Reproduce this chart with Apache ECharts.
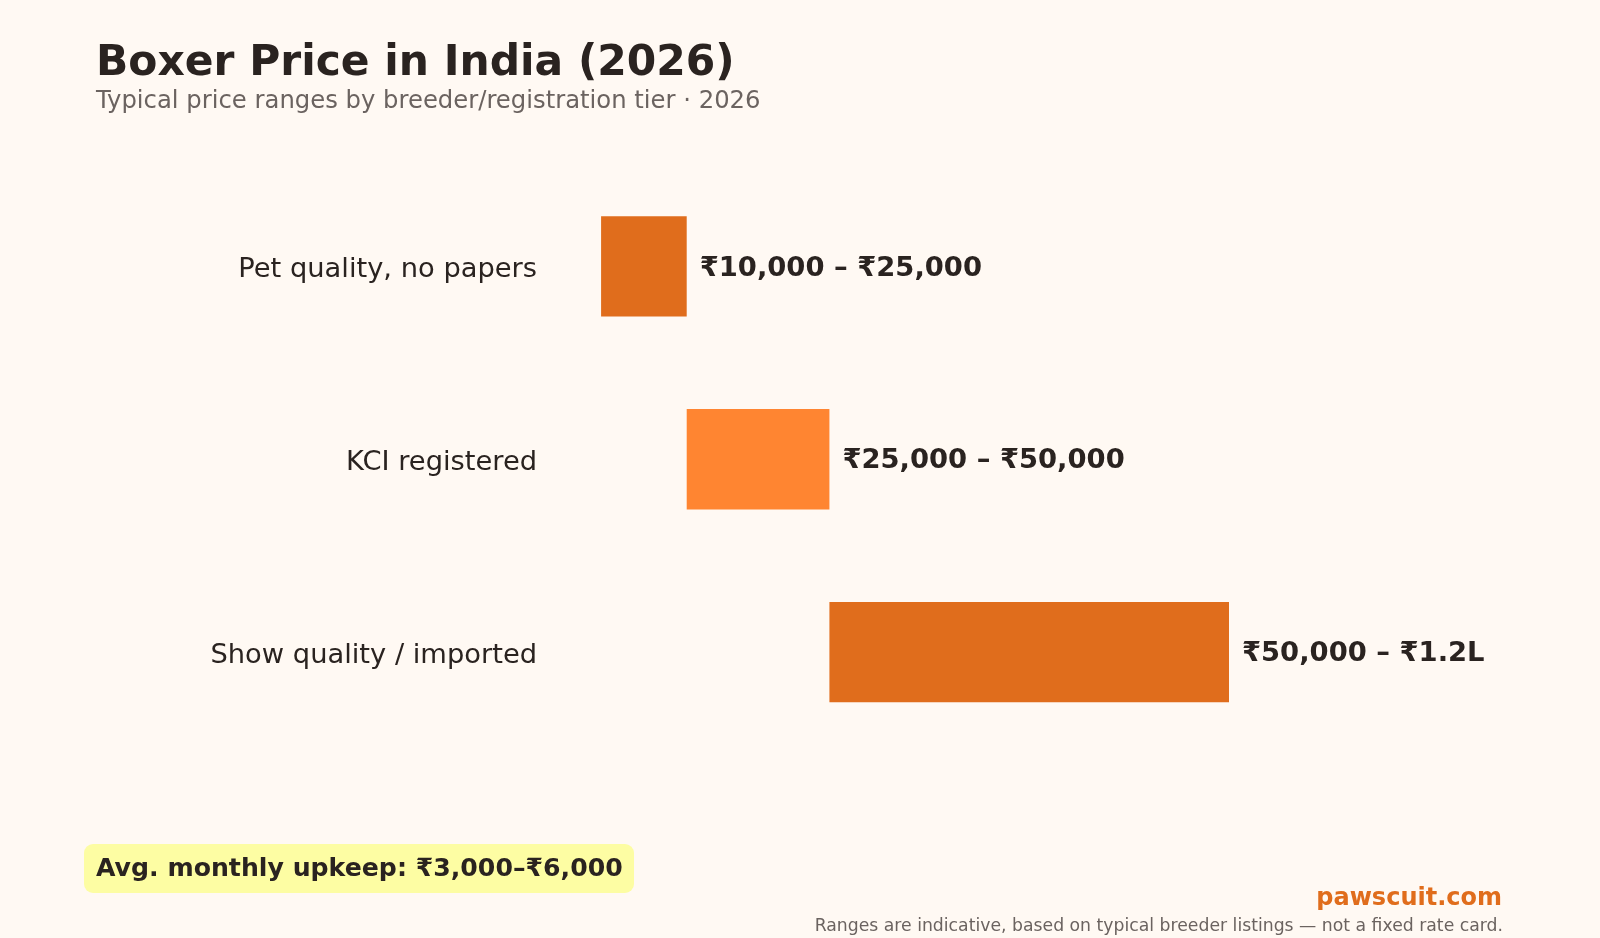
<!DOCTYPE html>
<html><head><meta charset="utf-8">
<script src="https://cdn.jsdelivr.net/npm/echarts@6/dist/echarts.min.js"></script>
<style>html,body{margin:0;padding:0;background:#FFF9F3;}#c{width:1600px;height:938px;}</style>
</head><body><div id="c"></div>
<script>
const categories = ['Pet quality, no papers', 'KCI registered', 'Show quality / imported'];
const lowValues = [10000, 25000, 50000];
const highValues = [25000, 50000, 120000];
const rangeLabels = ['₹10,000 – ₹25,000', '₹25,000 – ₹50,000', '₹50,000 – ₹1.2L'];
const barColors = ['#E06D1C', '#FF8531', '#E06D1C'];

const FONT = '"DejaVu Sans", Verdana, sans-serif';
const chart = echarts.init(document.getElementById('c'));
chart.setOption({
  backgroundColor: '#FFF9F3',
  animation: false,
  grid: { left: 544, right: 97, top: 170, bottom: 189.5, containLabel: false },
  xAxis: { type: 'value', min: 0, max: 168000, show: false },
  yAxis: {
    type: 'category', data: categories, inverse: true,
    axisLine: { show: false }, axisTick: { show: false }, splitLine: { show: false },
    axisLabel: { fontFamily: FONT, fontSize: 27.3, color: '#2A2320', margin: 7, verticalAlign: 'top', lineHeight: 7 }
  },
  series: [
    { type: 'bar', stack: 'r', data: lowValues, barWidth: '52%',
      itemStyle: { color: 'transparent' }, silent: true },
    { type: 'bar', stack: 'r', barWidth: '52%',
      data: highValues.map((h, i) => ({ value: h - lowValues[i], itemStyle: { color: barColors[i] } })),
      label: { show: true, position: 'right', distance: 13, offset: [0, 2],
        formatter: p => rangeLabels[p.dataIndex],
        fontFamily: FONT, fontSize: 27.4, fontWeight: 'bold', color: '#2A2320' } }
  ],
  graphic: [
    { type: 'text', x: 96, y: 64, style: { text: 'Boxer Price in India (2026)', font: 'bold 42.4px ' + FONT, fill: '#2A2320', verticalAlign: 'middle' } },
    { type: 'text', x: 96, y: 101.5, style: { text: 'Typical price ranges by breeder/registration tier · 2026', font: '24.3px ' + FONT, fill: '#6B6360', verticalAlign: 'middle' } },
    { type: 'rect', shape: { x: 84, y: 844, width: 550, height: 49, r: 9 }, style: { fill: '#FDFDA3' } },
    { type: 'text', x: 96, y: 869, style: { text: 'Avg. monthly upkeep: ₹3,000–₹6,000', font: 'bold 25.2px ' + FONT, fill: '#2A2320', verticalAlign: 'middle' } },
    { type: 'text', x: 1502, y: 899, style: { text: 'pawscuit.com', font: 'bold 24px ' + FONT, fill: '#E06D1C', align: 'right', verticalAlign: 'middle' } },
    { type: 'text', x: 1503, y: 927, style: { text: 'Ranges are indicative, based on typical breeder listings — not a fixed rate card.', font: '17.25px ' + FONT, fill: '#6B6360', align: 'right', verticalAlign: 'middle' } }
  ]
});
</script></body></html>
